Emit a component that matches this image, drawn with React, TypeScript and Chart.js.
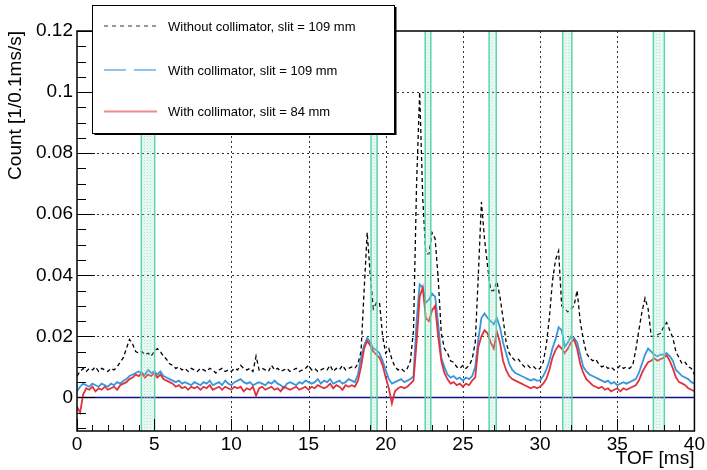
import React, { useEffect, useRef } from 'react';
import { Chart, registerables } from 'chart.js';

Chart.register(...registerables);

// TOF bin centres (ms), 0.2 ms step
const TOF_MS: number[] = Array.from({ length: 201 }, (_, i) => Math.round(i * 2) / 10);

const SERIES_LABELS = [
  'Without collimator, slit = 109 mm',
  'With collimator, slit = 109 mm',
  'With collimator, slit = 84 mm',
];

const WITHOUT_109 = [
  0.007, 0.0085, 0.0095, 0.0085, 0.0095, 0.009, 0.010, 0.0085, 0.0095, 0.009,
  0.0085, 0.0095, 0.009, 0.010, 0.0115, 0.013, 0.016, 0.019, 0.0175, 0.015,
  0.0145, 0.015, 0.014, 0.0145, 0.0135, 0.015, 0.016, 0.015, 0.0135, 0.0125,
  0.011, 0.0105, 0.0095, 0.010, 0.009, 0.0095, 0.0085, 0.0095, 0.009, 0.0085,
  0.0095, 0.009, 0.0085, 0.0095, 0.009, 0.008, 0.009, 0.0095, 0.0085, 0.009,
  0.0085, 0.0095, 0.009, 0.0105, 0.0095, 0.009, 0.0095, 0.0085, 0.0135, 0.009,
  0.0095, 0.009, 0.0085, 0.0105, 0.009, 0.0095, 0.0085, 0.009, 0.0095, 0.0085,
  0.009, 0.0095, 0.0085, 0.009, 0.0095, 0.0105, 0.009, 0.0095, 0.0085, 0.009,
  0.0095, 0.009, 0.0105, 0.0085, 0.0095, 0.009, 0.0105, 0.009, 0.0095, 0.010,
  0.0095, 0.011, 0.015, 0.035, 0.054, 0.040, 0.029, 0.031, 0.031, 0.020,
  0.0145, 0.016, 0.0125, 0.010, 0.009, 0.0095, 0.0085, 0.0095, 0.012, 0.022,
  0.070, 0.100, 0.065, 0.047, 0.047, 0.054, 0.052, 0.039, 0.021, 0.016,
  0.0145, 0.012, 0.0115, 0.010, 0.0095, 0.0105, 0.0095, 0.0105, 0.0125, 0.018,
  0.040, 0.064, 0.052, 0.043, 0.035, 0.035, 0.038, 0.033, 0.026, 0.018,
  0.0145, 0.013, 0.012, 0.0125, 0.011, 0.010, 0.0105, 0.0095, 0.010, 0.009,
  0.0095, 0.0115, 0.017, 0.026, 0.038, 0.045, 0.048, 0.030, 0.029, 0.028,
  0.029, 0.030, 0.035, 0.025, 0.019, 0.0145, 0.013, 0.012, 0.0125, 0.011,
  0.010, 0.0105, 0.0095, 0.010, 0.009, 0.0095, 0.0105, 0.0095, 0.010, 0.0095,
  0.0105, 0.0155, 0.022, 0.028, 0.0325, 0.029, 0.020, 0.020, 0.0205, 0.021,
  0.023, 0.0245, 0.022, 0.0195, 0.015, 0.013, 0.011, 0.0115, 0.010, 0.0095,
  0.0075,
];

const WITH_109 = [
  0.002, 0.0035, 0.0045, 0.004, 0.0035, 0.0045, 0.004, 0.0035, 0.0045, 0.004,
  0.0035, 0.0045, 0.004, 0.005, 0.0045, 0.0055, 0.006, 0.007, 0.0075, 0.008,
  0.0085, 0.008, 0.0075, 0.009, 0.008, 0.0085, 0.0075, 0.0085, 0.007, 0.0065,
  0.006, 0.0055, 0.005, 0.0055, 0.0045, 0.005, 0.0045, 0.004, 0.005, 0.0045,
  0.004, 0.005, 0.0045, 0.0055, 0.004, 0.0045, 0.005, 0.004, 0.0055, 0.0045,
  0.004, 0.005, 0.0055, 0.006, 0.005, 0.0045, 0.005, 0.004, 0.0045, 0.005,
  0.0045, 0.004, 0.005, 0.0045, 0.0055, 0.0045, 0.004, 0.003, 0.0045, 0.005,
  0.0045, 0.004, 0.005, 0.0045, 0.0055, 0.005, 0.0045, 0.005, 0.006, 0.0045,
  0.0055, 0.005, 0.006, 0.0045, 0.005, 0.0055, 0.0045, 0.005, 0.006, 0.0055,
  0.005, 0.0075, 0.013, 0.017, 0.0195, 0.018, 0.016, 0.0155, 0.0145, 0.012,
  0.009, 0.006, 0.0045, 0.005, 0.0055, 0.006, 0.005, 0.0055, 0.006, 0.007,
  0.025, 0.037, 0.036, 0.031, 0.032, 0.034, 0.033, 0.024, 0.013, 0.010,
  0.0075, 0.0065, 0.007, 0.006, 0.0065, 0.0055, 0.0065, 0.006, 0.007, 0.010,
  0.019, 0.026, 0.0275, 0.026, 0.025, 0.024, 0.026, 0.023, 0.018, 0.0145,
  0.011, 0.009, 0.008, 0.0075, 0.007, 0.0065, 0.006, 0.0055, 0.006, 0.0055,
  0.0055, 0.007, 0.009, 0.012, 0.016, 0.019, 0.023, 0.022, 0.0165, 0.018,
  0.020, 0.0195, 0.018, 0.014, 0.010, 0.0085, 0.0075, 0.007, 0.0065, 0.006,
  0.0055, 0.005, 0.0055, 0.0045, 0.005, 0.004, 0.0045, 0.005, 0.0045, 0.005,
  0.0055, 0.006, 0.008, 0.011, 0.014, 0.016, 0.015, 0.014, 0.0135, 0.014,
  0.014, 0.0145, 0.0135, 0.012, 0.009, 0.008, 0.007, 0.0065, 0.006, 0.005,
  0.0045,
];

const WITH_84 = [
  -0.003, -0.005, 0.001, 0.003, 0.0025, 0.0035, 0.002, 0.003, 0.0025, 0.0035,
  0.0025, 0.003, 0.0035, 0.0025, 0.004, 0.0045, 0.005, 0.006, 0.0065, 0.0075,
  0.007, 0.008, 0.0065, 0.0075, 0.007, 0.008, 0.0065, 0.0075, 0.006, 0.0055,
  0.005, 0.0045, 0.0035, 0.004, 0.003, 0.0035, 0.0025, 0.0035, 0.003, 0.0035,
  0.0025, 0.0035, 0.003, 0.004, 0.0025, 0.003, 0.0035, 0.0025, 0.0035, 0.003,
  0.0025, 0.0035, 0.003, 0.0035, 0.002, 0.003, 0.0025, 0.0035, 0.0005, 0.003,
  0.0035, 0.0025, 0.003, 0.0035, 0.0025, 0.003, 0.002, 0.0035, 0.003, 0.0025,
  0.003, 0.0035, 0.0025, 0.003, 0.0035, 0.0025, 0.0035, 0.003, 0.004, 0.0035,
  0.003, 0.0035, 0.0045, 0.003, 0.004, 0.0035, 0.0025, 0.004, 0.0035, 0.004,
  0.0035, 0.0055, 0.010, 0.016, 0.0185, 0.017, 0.015, 0.014, 0.013, 0.0105,
  0.0065, 0.003, -0.002, 0.002, 0.003, 0.0035, 0.003, 0.0035, 0.0045, 0.0055,
  0.018, 0.033, 0.036, 0.026, 0.025, 0.0285, 0.030, 0.020, 0.012, 0.008,
  0.006, 0.0045, 0.005, 0.004, 0.0045, 0.0035, 0.0045, 0.004, 0.0055, 0.0066,
  0.0165, 0.020, 0.022, 0.021, 0.018, 0.016, 0.0215, 0.018, 0.012, 0.009,
  0.007, 0.006, 0.0055, 0.005, 0.0045, 0.004, 0.0035, 0.003, 0.0035, 0.003,
  0.0035, 0.0045, 0.006, 0.009, 0.013, 0.0155, 0.017, 0.016, 0.0145, 0.016,
  0.018, 0.019, 0.016, 0.011, 0.008, 0.006, 0.005, 0.004, 0.0035, 0.003,
  0.0035, 0.0025, 0.003, 0.002, 0.0025, 0.003, 0.002, 0.003, 0.0025, 0.003,
  0.0035, 0.004, 0.0055, 0.008, 0.010, 0.0115, 0.012, 0.0128, 0.012, 0.0125,
  0.013, 0.0138, 0.012, 0.0095, 0.0066, 0.005, 0.0046, 0.004, 0.003, 0.0025,
  0.002,
];

// highlighted TOF windows (ms)
const BAND_START = [4.17, 19.05, 22.56, 26.7, 31.47, 37.34];
const BAND_END = [5.03, 19.44, 22.92, 27.16, 32.06, 38.05];

const X_TICKS = [0, 5, 10, 15, 20, 25, 30, 35, 40];
const Y_TICKS = [0, 0.02, 0.04, 0.06, 0.08, 0.1, 0.12];
const Y_TICK_LABELS = ['0', '0.02', '0.04', '0.06', '0.08', '0.1', '0.12'];

const FONT = 'Liberation Sans, Arial, Helvetica, sans-serif';

const decorPlugin = {
  id: 'decor',
  beforeDatasetsDraw(chart: any) {
    const { ctx, chartArea: a, scales } = chart;
    const xs = scales.x, ys = scales.y;
    ctx.save();
    ctx.strokeStyle = '#333';
    ctx.lineWidth = 1;
    ctx.setLineDash([2, 3]);
    for (const v of X_TICKS) {
      if (v <= 0 || v >= 40) continue;
      const px = Math.round(xs.getPixelForValue(v)) + 0.5;
      ctx.beginPath(); ctx.moveTo(px, a.top); ctx.lineTo(px, a.bottom); ctx.stroke();
    }
    for (const v of Y_TICKS) {
      if (v <= 0 || v >= 0.12) continue;
      const py = Math.round(ys.getPixelForValue(v)) + 0.5;
      ctx.beginPath(); ctx.moveTo(a.left, py); ctx.lineTo(a.right, py); ctx.stroke();
    }
    ctx.setLineDash([]);
    const y0 = ys.getPixelForValue(0);
    ctx.strokeStyle = '#101080';
    ctx.lineWidth = 1.5;
    ctx.beginPath(); ctx.moveTo(a.left, y0); ctx.lineTo(a.right, y0); ctx.stroke();
    ctx.restore();
  },
  afterDatasetsDraw(chart: any) {
    const { ctx, chartArea: a, scales } = chart;
    const xs = scales.x, ys = scales.y;
    ctx.save();
    // bands
    for (let i = 0; i < BAND_START.length; i++) {
      const x1 = xs.getPixelForValue(BAND_START[i]);
      const x2 = xs.getPixelForValue(BAND_END[i]);
      ctx.fillStyle = 'rgba(150,228,200,0.22)';
      ctx.fillRect(x1, a.top, x2 - x1, a.bottom - a.top);
      ctx.strokeStyle = 'rgba(150,225,195,0.8)';
      ctx.lineWidth = 1;
      ctx.setLineDash([1, 2]);
      ctx.beginPath();
      for (let xx = x1 + 3; xx < x2 - 2; xx += 3) { ctx.moveTo(xx, a.top); ctx.lineTo(xx, a.bottom); }
      ctx.stroke();
      ctx.setLineDash([]);
      ctx.strokeStyle = 'rgb(95,212,165)';
      ctx.lineWidth = 1.5;
      ctx.beginPath();
      ctx.moveTo(x1, a.top); ctx.lineTo(x1, a.bottom);
      ctx.moveTo(x2, a.top); ctx.lineTo(x2, a.bottom);
      ctx.stroke();
    }
    // frame
    ctx.strokeStyle = '#000';
    ctx.lineWidth = 1.5;
    ctx.strokeRect(a.left, a.top, a.right - a.left, a.bottom - a.top);
    // ticks
    ctx.lineWidth = 1;
    ctx.beginPath();
    for (let v = 0; v <= 40; v += 1) {
      const px = Math.round(xs.getPixelForValue(v)) + 0.5;
      const len = v % 5 === 0 ? 12 : 6;
      ctx.moveTo(px, a.bottom); ctx.lineTo(px, a.bottom - len);
    }
    for (let k = -2; k <= 24; k++) {
      const v = k * 0.005;
      const py = Math.round(ys.getPixelForValue(v)) + 0.5;
      if (py > a.bottom || py < a.top) continue;
      const len = k % 4 === 0 ? 18 : 9;
      ctx.moveTo(a.left, py); ctx.lineTo(a.left + len, py);
    }
    ctx.stroke();
    // legend
    const LX = 92.5, LY = 5, LW = 302, LH = 128;
    ctx.fillStyle = '#000';
    ctx.fillRect(LX + 2, LY + 2, LW, LH);
    ctx.fillStyle = '#fff';
    ctx.fillRect(LX, LY, LW, LH);
    ctx.strokeStyle = '#000';
    ctx.lineWidth = 1;
    ctx.strokeRect(LX, LY + 0.5, LW, LH);
    const rowsY = [26, 70, 111.5];
    const sampleStyles = [
      { color: '#333', dash: [4, 4], w: 1 },
      { color: '#8ec5ee', dash: [22, 8], w: 2 },
      { color: '#f08a8a', dash: [], w: 2 },
    ];
    ctx.font = `13px ${FONT}`;
    ctx.textBaseline = 'middle';
    ctx.textAlign = 'left';
    for (let i = 0; i < 3; i++) {
      const s = sampleStyles[i];
      ctx.strokeStyle = s.color;
      ctx.lineWidth = s.w;
      ctx.setLineDash(s.dash);
      ctx.beginPath(); ctx.moveTo(104, rowsY[i]); ctx.lineTo(157, rowsY[i]); ctx.stroke();
      ctx.setLineDash([]);
      ctx.fillStyle = '#000';
      ctx.fillText(chart.data.datasets[i].label, 168, rowsY[i] + 1);
    }
    ctx.restore();
  },
};

export default function App() {
  const ref = useRef<HTMLCanvasElement | null>(null);
  useEffect(() => {
    document.body.style.margin = '0';
    const mk = (arr: number[]) => TOF_MS.map((t, i) => ({ x: t, y: arr[i] }));
    const chart = new Chart(ref.current as HTMLCanvasElement, {
      type: 'line',
      data: {
        datasets: [
          { label: SERIES_LABELS[0], data: mk(WITHOUT_109), borderColor: '#000', borderWidth: 1.3, borderDash: [4, 3], pointRadius: 0, order: 0 },
          { label: SERIES_LABELS[1], data: mk(WITH_109), borderColor: '#3a96dc', borderWidth: 1.8, pointRadius: 0, order: 2 },
          { label: SERIES_LABELS[2], data: mk(WITH_84), borderColor: '#e0323c', borderWidth: 1.8, pointRadius: 0, order: 1 },
        ],
      },
      options: {
        responsive: false,
        animation: false,
        layout: { padding: { top: 31, right: 10, left: 0, bottom: 0 } },
        plugins: { legend: { display: false }, tooltip: { enabled: false } },
        elements: { line: { tension: 0 } },
        scales: {
          x: {
            type: 'linear', min: 0, max: 40,
            afterBuildTicks: (s: any) => { s.ticks = X_TICKS.map((v) => ({ value: v })); },
            afterFit: (s: any) => { s.height = 39; },
            grid: { display: false, drawTicks: false },
            border: { display: false },
            ticks: { color: '#000', font: { family: FONT, size: 19 }, padding: 2, maxRotation: 0, autoSkip: false, callback: (v: any) => String(v) },
            title: { display: true, text: 'TOF [ms]', align: 'end', color: '#000', font: { family: FONT, size: 19 }, padding: { top: 0, bottom: 0 } },
          },
          y: {
            type: 'linear', min: -0.011, max: 0.12,
            afterBuildTicks: (s: any) => { s.ticks = Y_TICKS.map((v) => ({ value: v })); },
            afterFit: (s: any) => { s.width = 77; },
            grid: { display: false, drawTicks: false },
            border: { display: false },
            ticks: {
              color: '#000', font: { family: FONT, size: 19 }, padding: 4, autoSkip: false,
              callback: (v: any) => { const i = Y_TICKS.findIndex((t) => Math.abs(t - v) < 1e-9); return i >= 0 ? Y_TICK_LABELS[i] : ''; },
            },
            title: { display: true, text: 'Count [1/0.1ms/s]', align: 'end', color: '#000', font: { family: FONT, size: 19 }, padding: { top: 4, bottom: 4 } },
          },
        },
      },
      plugins: [decorPlugin],
    } as any);
    return () => chart.destroy();
  }, []);
  return (
    <div style={{ width: 707, height: 470, background: '#fff' }}>
      <canvas ref={ref} width={707} height={470} />
    </div>
  );
}
